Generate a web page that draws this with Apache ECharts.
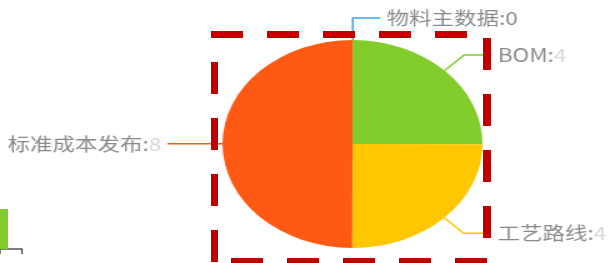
<!DOCTYPE html>
<html>
<head>
<meta charset="utf-8">
<script src="https://cdn.jsdelivr.net/npm/echarts@6/dist/echarts.min.js"></script>
<style>
  html, body { margin: 0; padding: 0; background: #fff; }
  #wrap { position: relative; width: 616px; height: 263px; overflow: hidden; }
  /* the source screenshot is stretched sideways, so the pie is drawn narrow and scaled */
  #pie { position: absolute; left: 0; top: 0; width: 493px; height: 263px; transform: scaleX(1.25); transform-origin: 0 0; }
  #deco { position: absolute; left: 0; top: 0; width: 616px; height: 263px; }
</style>
</head>
<body>
<div id="wrap">
  <div id="pie"></div>
  <div id="deco"></div>
</div>
<script>
// 饼图数据
var pieNames = ['物料主数据', 'BOM', '工艺路线', '标准成本发布'];
var pieValues = [0, 4, 4, 8];
var pieColors = ['#3ca5e6', '#82cd2b', '#ffc700', '#ff5a14'];

// 左下角被裁掉的柱状图 (x 位置, 数值)
var barPositions = [-4];
var barValues = [50];

var pieChart = echarts.init(document.getElementById('pie'));
pieChart.setOption({
  animation: false,
  series: [{
    type: 'pie',
    center: [282, 144],
    radius: 104,
    startAngle: 89.9,   // 让 0 值的标签落在右边
    clockwise: true,
    avoidLabelOverlap: false,
    data: pieNames.map(function (n, i) {
      return { name: n, value: pieValues[i], itemStyle: { color: pieColors[i] } };
    }),
    label: {
      show: true,
      position: 'outside',
      fontFamily: 'Noto Sans CJK SC',
      fontSize: 18,
      color: '#8a8a8a',
      formatter: function (p) {
        // 数值在原图里被打码了
        var v = p.value === 0 ? '{n|' + p.value + '}' : '{h|' + p.value + '}';
        return '{n|' + p.name + ':}' + v;
      },
      rich: {
        n: { fontFamily: 'Noto Sans CJK SC', fontSize: 18, color: '#8a8a8a' },
        h: { fontFamily: 'Noto Sans CJK SC', fontSize: 18, color: '#d6d6d6' }
      }
    },
    labelLine: {
      show: true,
      length: 22,
      length2: 22,
      lineStyle: { width: 1.5 }
    }
  }]
});

var decoChart = echarts.init(document.getElementById('deco'));
decoChart.setOption({
  animation: false,
  grid: { left: 0, width: 22, top: 169, height: 80 },
  xAxis: {
    type: 'value',
    min: 0,
    max: 22,
    interval: 22,
    axisLine: { show: true, lineStyle: { color: '#555', width: 1.5 } },
    axisTick: { show: true, length: 5, lineStyle: { color: '#555', width: 1.5 } },
    axisLabel: { show: false },
    splitLine: { show: false }
  },
  yAxis: {
    type: 'value',
    min: 0,
    max: 100,
    show: false,
    splitLine: { show: false }
  },
  series: [{
    type: 'bar',
    data: barPositions.map(function (x, i) { return [x, barValues[i]]; }),
    barWidth: 24,
    clip: true,
    itemStyle: { color: '#82cd2b' }
  }],
  // 红色虚线框 (标注)
  graphic: [
    { type: 'line', shape: { x1: 211, y1: 34.5, x2: 490, y2: 34.5 }, style: { stroke: '#c00000', lineWidth: 7, lineDash: [32, 24] }, z: 100 },
    { type: 'line', shape: { x1: 487, y1: 38, x2: 487, y2: 262 }, style: { stroke: '#c00000', lineWidth: 8, lineDash: [32, 24] }, z: 100 },
    { type: 'line', shape: { x1: 487, y1: 261.5, x2: 211, y2: 261.5 }, style: { stroke: '#c00000', lineWidth: 7, lineDash: [32, 24] }, z: 100 },
    { type: 'line', shape: { x1: 214.5, y1: 62, x2: 214.5, y2: 263 }, style: { stroke: '#c00000', lineWidth: 7, lineDash: [32, 24] }, z: 100 }
  ]
});
</script>
</body>
</html>
